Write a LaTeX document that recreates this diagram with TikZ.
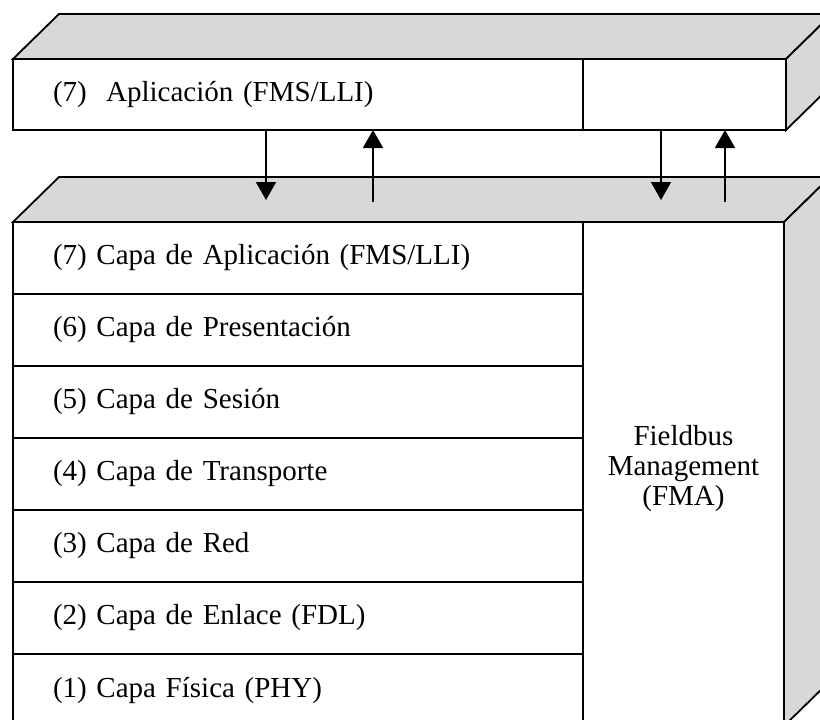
\documentclass[tikz,border=0pt]{standalone}
\usepackage{fontspec}
\setmainfont{Liberation Serif}
\usetikzlibrary{positioning,arrows.meta}
\definecolor{facegray}{RGB}{216,216,216}
\begin{document}
\begin{tikzpicture}[x=1pt,y=-1pt,line width=1.8pt,
    layer/.style={draw,fill=white,outer sep=0pt,inner ysep=0pt,inner xsep=40pt,
        text width=490pt,align=left,minimum height=72pt,
        font=\fontsize{29}{30}\selectfont},
    column/.style={draw,fill=white,outer sep=0pt,align=center,
        font=\fontsize{29}{30}\selectfont},
    face/.style={draw,fill=facegray,line join=miter},
    flow/.style={-{Triangle[length=18pt,width=20pt]}}]

    \useasboundingbox (0,0) rectangle (820,720);
    \clip (0,0) rectangle (820,720);

    % upper block
    \node[layer,anchor=north west,minimum height=71pt] (app) at (13,59) {(7)\ \ Aplicación (FMS/LLI)};
    \node[column,anchor=north west,minimum width=203pt,minimum height=71pt] (mgmt) at (app.north east) {};
    \draw[face] (app.north west) -- ++(46,-45) -- ++(773,0) -- (mgmt.north east) -- cycle;
    \draw[face] (mgmt.north east) -- ++(46,-45) -- ++(0,71) -- (mgmt.south east) -- cycle;

    % lower block
    \node[layer,anchor=north west] (c7) at (13,222) {(7) Capa de Aplicación (FMS/LLI)};
    \node[layer,below=0pt of c7] (c6) {(6) Capa de Presentación};
    \node[layer,below=0pt of c6] (c5) {(5) Capa de Sesión};
    \node[layer,below=0pt of c5] (c4) {(4) Capa de Transporte};
    \node[layer,below=0pt of c4] (c3) {(3) Capa de Red};
    \node[layer,below=0pt of c3] (c2) {(2) Capa de Enlace (FDL)};
    \node[layer,below=0pt of c2] (c1) {(1) Capa Física (PHY)};
    \node[column,anchor=north west,minimum width=201pt,minimum height=504pt] (fma) at (c7.north east)
        {Fieldbus\\Management\\(FMA)\\[-12pt]};
    \draw[face] (c7.north west) -- ++(46,-45) -- ++(771,0) -- (fma.north east) -- cycle;
    \draw[face] (fma.north east) -- ++(46,-45) -- ++(0,504) -- (fma.south east) -- cycle;

    % arrows between the blocks
    \coordinate (a1) at (266,200);
    \coordinate (a2) at (373,202);
    \coordinate (a3) at (661,200);
    \coordinate (a4) at (725,202);
    \draw[flow] (app.south -| a1) -- (a1);
    \draw[flow] (a2) -- (app.south -| a2);
    \draw[flow] (mgmt.south -| a3) -- (a3);
    \draw[flow] (a4) -- (mgmt.south -| a4);

\end{tikzpicture}
\end{document}
